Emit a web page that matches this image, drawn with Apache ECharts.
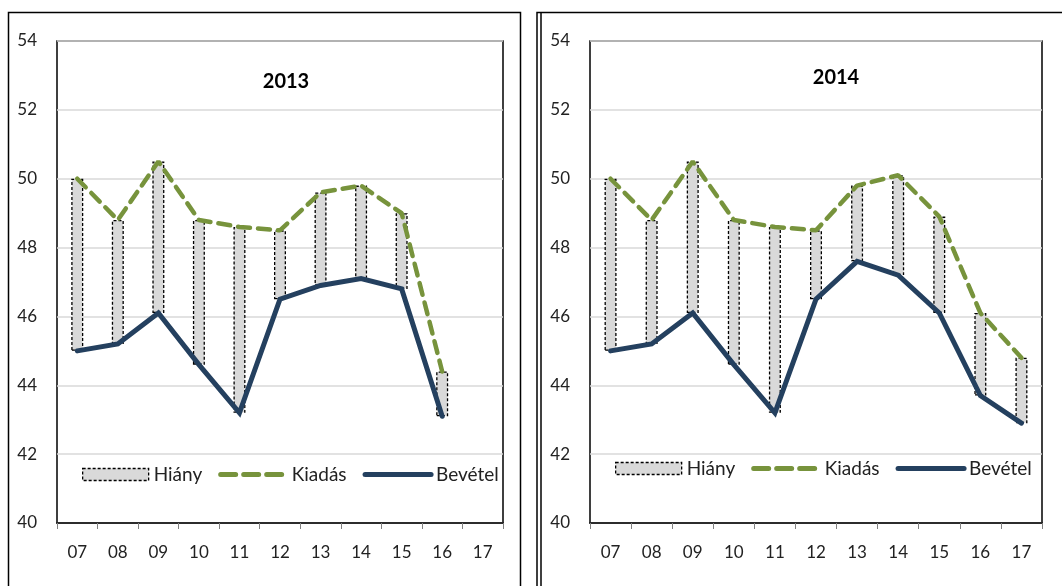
<!DOCTYPE html>
<html>
<head>
<meta charset="utf-8">
<script src="https://cdn.jsdelivr.net/npm/echarts@6/dist/echarts.min.js"></script>
<style>
  html, body { margin: 0; padding: 0; background: #fff; }
  #main { width: 1062px; height: 586px; }
</style>
</head>
<body>
<div id="main"></div>
<script>
var years = ['07', '08', '09', '10', '11', '12', '13', '14', '15', '16', '17'];
var yTicks = [40, 42, 44, 46, 48, 50, 52, 54];

// 2013
var kiadas2013 = [50.0, 48.8, 50.5, 48.8, 48.6, 48.5, 49.6, 49.8, 49.0, 44.4, null];
var bevetel2013 = [45.0, 45.2, 46.1, 44.6, 43.2, 46.5, 46.9, 47.1, 46.8, 43.1, null];
// 2014
var kiadas2014 = [50.0, 48.8, 50.5, 48.8, 48.6, 48.5, 49.8, 50.1, 48.9, 46.1, 44.8];
var bevetel2014 = [45.0, 45.2, 46.1, 44.6, 43.2, 46.5, 47.6, 47.2, 46.1, 43.7, 42.9];

var FONT = 'Lato';
var GREEN = '#77933C';
var NAVY = '#24405F';
var BAR_STYLE = { color: '#D9D9D9', borderColor: '#000', borderWidth: 1.3, borderType: [3, 2] };

// hiány = kiadás - bevétel, floated on top of an invisible bevétel bar
function gap(k, b) {
    return k.map(function (v, i) {
        return (v == null || b[i] == null) ? null : +(v - b[i]).toFixed(2);
    });
}

function xAxis(idx) {
    return {
        type: 'category', gridIndex: idx, data: years, boundaryGap: true,
        axisLine: { show: true, lineStyle: { color: '#000', width: 1.5 } },
        axisTick: { show: true, length: 6, lineStyle: { color: '#808080' } },
        axisLabel: { fontFamily: FONT, fontSize: 17, color: '#222', margin: 21 }
    };
}

function yAxis(idx) {
    return {
        type: 'value', gridIndex: idx, min: yTicks[0], max: yTicks[yTicks.length - 1], interval: 2,
        axisLine: { show: false }, axisTick: { show: false },
        axisLabel: { fontFamily: FONT, fontSize: 17, color: '#222', margin: 20 },
        splitLine: { lineStyle: { color: '#D9D9D9', width: 1.5 } }
    };
}

function seriesFor(idx, kiadas, bevetel) {
    return [{
        name: 'base', type: 'bar', stack: 's' + idx, xAxisIndex: idx, yAxisIndex: idx,
        data: bevetel, barWidth: 12, silent: true,
        itemStyle: { color: 'transparent' }
    }, {
        name: 'Hiány', type: 'bar', stack: 's' + idx, xAxisIndex: idx, yAxisIndex: idx,
        data: gap(kiadas, bevetel), barWidth: 12,
        itemStyle: BAR_STYLE
    }, {
        name: 'Kiadás', type: 'line', xAxisIndex: idx, yAxisIndex: idx, data: kiadas,
        symbol: 'none', z: 5,
        lineStyle: { color: GREEN, width: 4.5, type: [12, 8], cap: 'round' },
        itemStyle: { color: GREEN }
    }, {
        name: 'Bevétel', type: 'line', xAxisIndex: idx, yAxisIndex: idx, data: bevetel,
        symbol: 'none', z: 6,
        lineStyle: { color: NAVY, width: 5, cap: 'round', join: 'miter' },
        itemStyle: { color: NAVY }
    }];
}

function legend(left, top) {
    return {
        left: left, top: top,
        itemWidth: 66, itemHeight: 12, itemGap: 16,
        textStyle: { fontFamily: FONT, fontSize: 19, color: '#222' },
        data: [
            { name: 'Hiány', icon: 'rect', itemStyle: BAR_STYLE },
            { name: 'Kiadás', itemStyle: { opacity: 0 },
              lineStyle: { width: 5, type: [15, 8], cap: 'round', color: GREEN } },
            { name: 'Bevétel', itemStyle: { opacity: 0 },
              lineStyle: { width: 5, cap: 'round', color: NAVY } }
        ]
    };
}

var myChart = echarts.init(document.getElementById('main'));
var option = {
    animation: false,
    title: [
        { text: '2013', left: 281, top: 67, textAlign: 'center',
          textStyle: { fontFamily: FONT, fontSize: 20, fontWeight: 'bold', color: '#000' } },
        { text: '2014', left: 831, top: 63, textAlign: 'center',
          textStyle: { fontFamily: FONT, fontSize: 20, fontWeight: 'bold', color: '#000' } }
    ],
    legend: [legend(77, 460), legend(610, 454)],
    grid: [
        { left: 57, right: 559, top: 41, bottom: 63, show: true, borderColor: '#000', borderWidth: 1.5 },
        { left: 590, right: 20, top: 41, bottom: 63, show: true, borderColor: '#000', borderWidth: 1.5 }
    ],
    xAxis: [xAxis(0), xAxis(1)],
    yAxis: [yAxis(0), yAxis(1)],
    series: seriesFor(0, kiadas2013, bevetel2013).concat(seriesFor(1, kiadas2014, bevetel2014)),
    graphic: [
        { type: 'rect', shape: { x: 8.5, y: 12.5, width: 512, height: 600 },
          style: { fill: 'none', stroke: '#000', lineWidth: 1.5 }, silent: true },
        { type: 'rect', shape: { x: 537, y: 12.5, width: 600, height: 600 },
          style: { fill: 'none', stroke: '#000', lineWidth: 1.5 }, silent: true },
        { type: 'line', shape: { x1: 541, y1: 12.5, x2: 541, y2: 600 },
          style: { stroke: '#000', lineWidth: 1.5 }, silent: true }
    ]
};
myChart.setOption(option);
</script>
</body>
</html>
